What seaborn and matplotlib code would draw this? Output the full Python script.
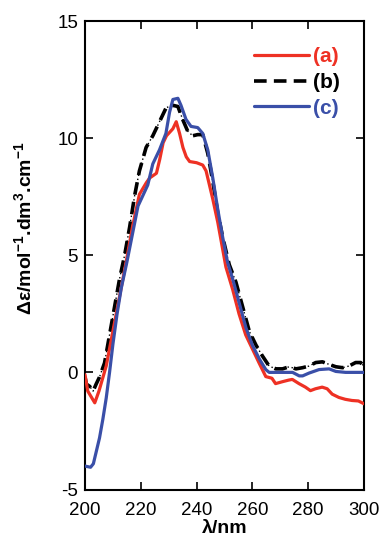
import matplotlib
matplotlib.use("Agg")
import matplotlib.pyplot as plt
import seaborn as sns
import numpy as np
import pandas as pd

# ---- data ----
wl_a = [200, 201, 203.5, 205, 207.6, 210, 212.4, 214.8, 217, 219.5, 222, 223.2, 225.6,
        226.8, 228, 229.2, 231.5, 232.7, 233.9, 235.1, 236.3, 237.5, 240, 242.2, 243.4,
        245.8, 247.6, 250.5, 252.9, 255.2, 257.6, 260, 262.4, 264.8, 267, 268.3, 270.7,
        273, 274.3, 276.7, 279, 280.8, 282.6, 285, 286.8, 288.6, 291, 293.3, 295.7, 298, 300]
de_a = [-0.1, -0.8, -1.3, -0.8, 0.27, 1.76, 3.25, 4.75, 6.2, 7.6, 8.1, 8.3, 8.5,
        9.1, 9.8, 10.1, 10.4, 10.7, 10.2, 9.6, 9.2, 9.0, 8.95, 8.85, 8.6,
        7.4, 6.4, 4.5, 3.55, 2.5, 1.6, 1.0, 0.4, -0.18, -0.25, -0.48, -0.4,
        -0.33, -0.3, -0.48, -0.63, -0.78, -0.7, -0.63, -0.7, -0.93, -1.07, -1.15, -1.2, -1.22, -1.34]

wl_b = [200, 200.5, 201.7, 202.9, 204, 205.2, 207, 208.8, 210.6, 212.4, 214.2, 216, 217.8,
        219.5, 221.9, 224.3, 226.7, 229.1, 231.5, 233.3, 235, 236.8, 238.6, 240.4, 242.2,
        244, 245.8, 247.6, 249.3, 251.7, 254.1, 256.5, 258.9, 261.3, 263.6, 266, 268.4,
        270.8, 273.2, 275.6, 278, 280.3, 282.7, 285.1, 287.5, 289.9, 292.3, 294.6, 297, 298.8, 300]
de_b = [-0.2, -0.5, -0.6, -0.8, -0.5, -0.2, 0.4, 1.6, 2.8, 4.0, 5.0, 6.2, 7.55,
        8.6, 9.6, 10.1, 10.7, 11.3, 11.4, 11.35, 10.8, 10.3, 10.1, 10.15, 10.15,
        9.35, 8.15, 6.8, 5.8, 4.6, 3.85, 2.8, 1.75, 1.16, 0.7, 0.27, 0.15,
        0.15, 0.24, 0.15, 0.2, 0.27, 0.42, 0.45, 0.34, 0.24, 0.2, 0.27, 0.42, 0.42, 0.27]

wl_c = [200, 202, 203, 204, 205.2, 206.4, 207.6, 208.8, 210, 211.5, 213, 215, 217, 219,
        222.5, 224.3, 226.7, 229, 230.3, 231.5, 233.3, 234.4, 236.2, 238, 240.4, 242.2,
        244, 245.8, 247.6, 249.3, 251.1, 252.9, 255.3, 257.7, 260, 262.5, 264.8, 266,
        269.6, 274.4, 276.8, 278, 280.3, 283.9, 287.5, 289.9, 293.4, 300]
de_c = [-4.0, -4.05, -3.9, -3.4, -2.8, -2.0, -1.1, 0.0, 1.2, 2.5, 3.6, 4.7, 5.9, 7.1,
        8.0, 8.9, 9.5, 10.2, 11.1, 11.65, 11.7, 11.4, 10.8, 10.5, 10.45, 10.2,
        9.5, 8.3, 6.95, 5.8, 4.7, 4.0, 2.95, 1.9, 1.16, 0.57, 0.12, 0.0,
        0.0, 0.0, -0.15, -0.15, -0.03, 0.12, 0.15, 0.04, 0.0, 0.0]

labels = ["(a)", "(b)", "(c)"]
colors = ["#ee3124", "#000000", "#3a4fa8"]
x_ticks = [200, 220, 240, 260, 280, 300]
y_ticks = [-5, 0, 5, 10, 15]

# ---- style ----
sns.set_theme(style="ticks")
plt.rcParams["font.family"] = ["Liberation Sans", "DejaVu Sans"]
plt.rcParams["mathtext.fontset"] = "custom"
plt.rcParams["mathtext.rm"] = "Liberation Sans"
plt.rcParams["mathtext.bf"] = "Liberation Sans:bold"
plt.rcParams["text.color"] = "black"
plt.rcParams["axes.labelcolor"] = "black"
plt.rcParams["axes.unicode_minus"] = False

fig = plt.figure(figsize=(3.81, 5.46), dpi=100)
ax = fig.add_axes([85 / 381, 1 - 489.5 / 546, (364 - 85) / 381, (489.5 - 21) / 546])

df_a = pd.DataFrame({"x": wl_a, "y": de_a})
df_b = pd.DataFrame({"x": wl_b, "y": de_b})
df_c = pd.DataFrame({"x": wl_c, "y": de_c})

sns.lineplot(data=df_a, x="x", y="y", ax=ax, color=colors[0], lw=2.3, sort=False,
             label=labels[0], zorder=3)
# thin dotted underlay for (b)
sns.lineplot(data=df_b, x="x", y="y", ax=ax, color="black", lw=1.0, sort=False,
             linestyle=(0, (1, 2)), zorder=2)
sns.lineplot(data=df_b, x="x", y="y", ax=ax, color=colors[1], lw=2.6, sort=False,
             linestyle=(0, (3.5, 2)), label=labels[1], zorder=2)
sns.lineplot(data=df_c, x="x", y="y", ax=ax, color=colors[2], lw=2.3, sort=False,
             label=labels[2], zorder=4)

ax.set_xlim(200, 300)
ax.set_ylim(-5, 15)
ax.set_xticks(x_ticks)
ax.set_yticks(y_ticks)
ax.tick_params(direction="in", length=6, width=1.2, top=True, right=True,
               labelsize=13.5, colors="black", labelcolor="black", pad=5)
ax.tick_params(axis="x", pad=9)
for s in ax.spines.values():
    s.set_linewidth(1.5)
    s.set_color("black")

ax.set_xlabel("λ/nm", fontsize=14, fontweight="bold", labelpad=1)
ax.set_ylabel(r"Δε/mol$^{\mathbf{-1}}$.dm$^{\mathbf{3}}$.cm$^{\mathbf{-1}}$",
              fontsize=14, fontweight="bold")
ax.yaxis.set_label_coords(-0.175, 0.558)

handles, labs = ax.get_legend_handles_labels()
leg = ax.legend(handles, labs, loc="upper right", bbox_to_anchor=(0.965, 0.975),
                frameon=False, handlelength=2.6, handletextpad=0.2,
                labelspacing=0.32, borderpad=0.2, prop={"weight": "bold", "size": 15})
for t, c in zip(leg.get_texts(), colors):
    t.set_color(c)

fig.savefig("out.png", dpi=100)
